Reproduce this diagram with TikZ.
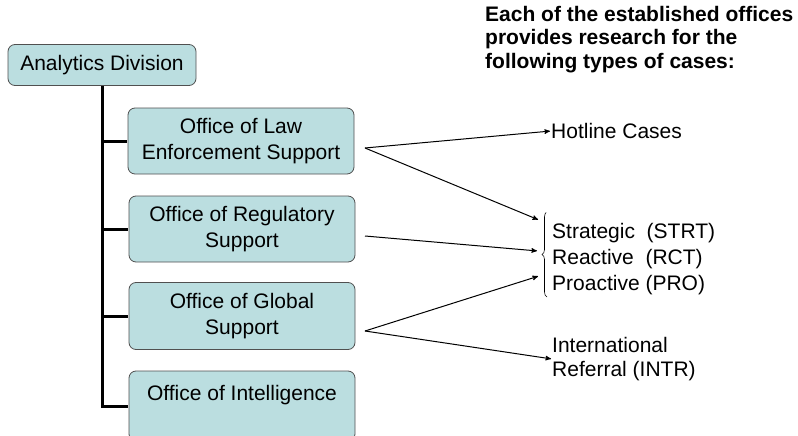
\documentclass[tikz,border=0pt]{standalone}
\usepackage{fontspec}
\setmainfont{Liberation Sans}
\usetikzlibrary{arrows, decorations.pathreplacing}
\definecolor{boxteal}{RGB}{187,222,224}
\definecolor{boxline}{RGB}{80,80,80}

\tikzset{
  office/.style={draw=boxline, fill=boxteal, rounded corners=7pt, line width=0.8pt,
    minimum width=226pt, align=center, font=\fontsize{21}{26}\selectfont},
  tree/.style={line width=3pt},
  item/.style={inner sep=0pt, align=left, font=\fontsize{21}{26}\selectfont},
  head/.style={inner sep=0pt, align=left, font=\bfseries\fontsize{21}{23.5}\selectfont}
}

\begin{document}
\begin{tikzpicture}[x=1pt,y=-1pt,>=stealth',shorten >=1pt]
		  \useasboundingbox (0,0) rectangle (798,436);
		  \clip (0,0) rectangle (798,436);
		  \node[office, minimum width=188pt, minimum height=41pt] (div) at (102,65) {Analytics Division};
		  \node[office, minimum height=66pt] (law)   at (241,141) {Office of Law\\Enforcement Support};
		  \node[office, minimum height=66pt] (reg)   at (242,229) {Office of Regulatory\\Support};
		  \node[office, minimum height=67pt] (glob)  at (242,316) {Office of Global\\Support};
		  \node[office, minimum height=70pt] (intel) at (242,406) {Office of Intelligence\\\mbox{}};
		  \draw[tree] (div.south) -- (div.south |- intel.west) -- (intel.west);
		  \draw[tree] (div.south |- law.west)  -- (law.west);
		  \draw[tree] (div.south |- reg.west)  -- (reg.west);
		  \draw[tree] (div.south |- glob.west) -- (glob.west);
		  \node[head, anchor=north west] (head) at (485,6) {Each of the established offices\\provides research for the\\following types of cases:};
		  \node[item, anchor=west] (hot)   at (551,131) {Hotline Cases};
		  \node[item, anchor=west] (cases) at (552,259) {Strategic\ \ (STRT)\\Reactive\ \ (RCT)\\Proactive (PRO)};
		  \node[item, anchor=west, font=\fontsize{21}{23.5}\selectfont] (intr) at (552,359) {International\\Referral (INTR)};
		  \draw[decorate, decoration={brace, amplitude=5pt}, line width=0.6pt] (547,297) -- (547,212);
		  \coordinate (lawout)  at (365,148);
		  \coordinate (regout)  at (365,236);
		  \coordinate (globout) at (365,331);
		  \coordinate (s1) at (539,220);
		  \coordinate (s2) at (538,251);
		  \coordinate (s3) at (539,276);
		  \path[->, line width=1pt]  (lawout)  edge (hot.west);
		  \path[->, line width=1pt]  (lawout)  edge (s1);
		  \path[->, line width=1pt]  (regout)  edge (s2);
		  \path[->, line width=1pt]  (globout) edge (s3);
		  \path[->, line width=1pt]  (globout) edge (intr.west);
		\end{tikzpicture}
\end{document}
